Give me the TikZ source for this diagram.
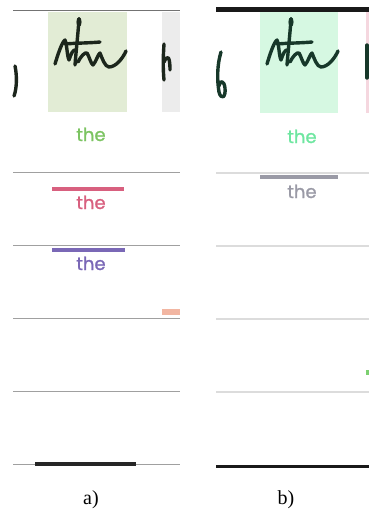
\documentclass[tikz,border=0pt]{standalone}
\usepackage{fontspec}
\setmainfont{Liberation Serif}
\newfontfamily\popp{Poppins}[FakeBold=1.2]
\definecolor{boxgreen}{HTML}{E2ECD5}
\definecolor{boxmint}{HTML}{D6F8E2}
\definecolor{boxgray}{HTML}{ECECEC}
\definecolor{txgreen}{HTML}{7CC462}
\definecolor{txmint}{HTML}{6EE6A0}
\definecolor{txpink}{HTML}{D8607F}
\definecolor{txpurple}{HTML}{7A68B6}
\definecolor{txgray}{HTML}{9A9AA6}
\definecolor{salmon}{HTML}{F2B6A2}
\definecolor{inka}{HTML}{1C261C}
\definecolor{inkb}{HTML}{17382A}
\definecolor{linea}{HTML}{A0A0A0}
\definecolor{lineb}{HTML}{DCDCDC}
\definecolor{dotgreen}{HTML}{7CD070}
\tikzset{
  word/.style={font=\popp\fontsize{18}{18}\selectfont, inner sep=0pt, anchor=base},
  sublabel/.style={font=\fontsize{20}{20}\selectfont, inner sep=0pt},
  rowa/.style={draw=linea, line width=1pt},
  rowb/.style={draw=lineb, line width=1.5pt},
  bar/.style={line width=4pt},
  ink/.style={line width=3.4pt, line cap=round, line join=round},
  handthe/.pic={
    \draw[ink] (31,7) .. controls (30,22) and (28,40) .. (27,53);
    \fill (31,10) ellipse (2.6 and 5);
    \draw[ink] (17,32) .. controls (28,31) and (42,31) .. (52,30);
    \draw[ink] (7,52) .. controls (10,42) and (14,30) .. (17,28)
      .. controls (19,32) and (19,44) .. (21,48)
      .. controls (23,42) and (25,37) .. (28,38);
    \draw[ink] (30,50) .. controls (33,44) and (37,40) .. (39,41)
      .. controls (41,44) and (43,52) .. (45,53)
      .. controls (48,50) and (50,42) .. (52,41)
      .. controls (54,46) and (57,55) .. (61,55)
      .. controls (68,55) and (75,46) .. (78,39);
  }
}
\begin{document}
\begin{tikzpicture}[x=1pt,y=-1pt]
\useasboundingbox (0,0) rectangle (369,517);
% ---------- panel a ----------
\fill[boxgreen] (48,12) rectangle (127,112);
\fill[boxgray] (162,12) rectangle (180,112);
\draw[draw=black!55, line width=1pt] (13,10) -- (180,10);
\begin{scope}[color=inka]
  \pic at (48,12) {handthe};
  \draw[ink] (15,66) .. controls (17,75) and (17,88) .. (14,96);
  \draw[ink] (164,44) .. controls (163,58) and (163,70) .. (164,80);
  \draw[ink] (164,62) .. controls (167,55) and (170,55) .. (170,70);
\end{scope}
\node[word, text=txgreen] (wa1) at (91,141) {the};
\draw[rowa] (13,172) -- (180,172);
\draw[bar, txpink] (52,189) -- (124,189);
\node[word, text=txpink] (wa2) at (91,209) {the};
\draw[rowa] (13,245) -- (180,245);
\draw[bar, txpurple] (52,250) -- (125,250);
\node[word, text=txpurple] (wa3) at (91,270) {the};
\fill[salmon] (162,309) rectangle (180,315);
\draw[rowa] (13,318) -- (180,318);
\draw[rowa] (13,391) -- (180,391);
\draw[rowa] (13,464) -- (180,464);
\draw[bar, black!85] (35,464) -- (136,464);
\node[sublabel] (la) at (91,500) {a)};
% ---------- panel b ----------
\fill[boxmint] (260,12) rectangle (338,113);
\fill[txpink!25] (366,12) rectangle (369,113);
\draw[line width=5pt, black!90] (216,9) -- (369,9);
\begin{scope}[color=inkb]
  \pic at (260,12) {handthe};
  \draw[ink] (221,52) .. controls (217,65) and (217,80) .. (219,92)
     .. controls (221,100) and (226,98) .. (225,88)
     .. controls (224,80) and (220,80) .. (219,86);
  \draw[ink] (367,45) -- (367,78);
\end{scope}
\node[word, text=txmint] (wb1) at (302,143) {the};
\draw[rowb] (216,173) -- (369,173);
\draw[bar, txgray] (260,177) -- (338,177);
\node[word, text=txgray] (wb2) at (302,198) {the};
\draw[rowb] (216,246) -- (369,246);
\draw[rowb] (216,319) -- (369,319);
\fill[dotgreen] (366,370) rectangle (369,375);
\draw[rowb] (216,392) -- (369,392);
\draw[line width=3pt, black!90] (216,466) -- (369,466);
\node[sublabel] (lb) at (286,500) {b)};
\end{tikzpicture}
\end{document}
